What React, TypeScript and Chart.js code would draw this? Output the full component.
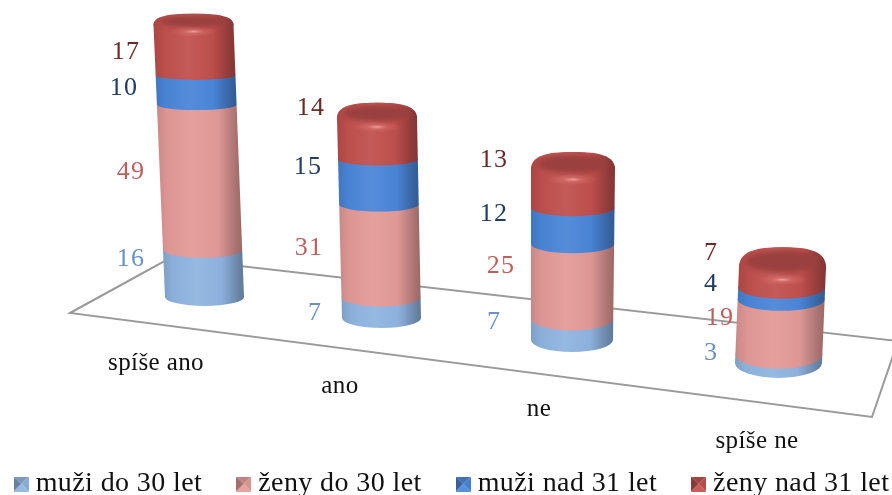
import React, { useEffect, useRef } from "react";
import { Chart, registerables } from "chart.js";

Chart.register(...registerables);

const categories = ["spíše ano", "ano", "ne", "spíše ne"];
const seriesNames = ["muži do 30 let", "ženy do 30 let", "muži nad 31 let", "ženy nad 31 let"];
const muziDo30 = [16, 7, 7, 3];
const zenyDo30 = [49, 31, 25, 19];
const muziNad31 = [10, 15, 12, 4];
const zenyNad31 = [17, 14, 13, 7];

const barColors = ["#8fb4e0", "#e39a98", "#4a86d8", "#c0504d"];
const labelColors = ["#6a90c4", "#bd5f5c", "#1f3c64", "#6a2a28"];
const SERIF = '"Liberation Serif", serif';

// Canvas overhangs the page so that the legend can keep one row and sit low, as in the reference
const CANVAS_W = 960;
const CANVAS_H = 508;
const CANVAS_SHIFT_X = 25;

// 3D view layout per category
const BASE_X = [204.5, 381.5, 572, 778.5];
const TOP_X = [193.5, 377, 573, 782.5];
const BASE_Y = [297, 318, 340, 363];
const UNIT_PX = [2.96, 2.99, 3.0, 2.9];
const HALF_BASE = [39.5, 39.5, 41, 43.5];
const HALF_TOP = [40, 40, 42, 43.5];
const RY_BASE = [9, 10, 12, 15];
const RY_TOP = [4, 5, 7, 10];
const RY_CAP = [11, 15, 17, 20];
const CAT_LABEL_POS = [[156, 363], [340, 386], [539, 409], [757, 441]];
const VALUE_POS = [
  [[131, 259], [315, 313], [494, 322], [711, 353]],
  [[131, 172], [309, 248], [501, 266], [720, 318]],
  [[124, 88], [308, 167], [494, 214], [711, 284]],
  [[126, 52], [311, 108], [494, 160], [711, 253]],
];
const FLOOR = [[70, 313], [170, 258], [898, 341], [872, 417]];

function shade(hex: string, f: number) {
  const n = parseInt(hex.slice(1), 16);
  const c = [(n >> 16) & 255, (n >> 8) & 255, n & 255].map((v) =>
    Math.max(0, Math.min(255, Math.round(f <= 1 ? v * f : v + (255 - v) * (f - 1))))
  );
  return `rgb(${c[0]},${c[1]},${c[2]})`;
}

function legendSwatch(color: string) {
  const c = document.createElement("canvas");
  c.width = 15;
  c.height = 15;
  const g = c.getContext("2d")!;
  const tri = (pts: number[][], col: string) => {
    g.fillStyle = col;
    g.beginPath();
    g.moveTo(pts[0][0], pts[0][1]);
    g.lineTo(pts[1][0], pts[1][1]);
    g.lineTo(pts[2][0], pts[2][1]);
    g.closePath();
    g.fill();
  };
  tri([[0, 0], [15, 0], [7.5, 7.5]], shade(color, 0.85));
  tri([[0, 0], [0, 15], [7.5, 7.5]], shade(color, 0.72));
  tri([[15, 0], [15, 15], [7.5, 7.5]], shade(color, 0.95));
  tri([[0, 15], [15, 15], [7.5, 7.5]], shade(color, 1.08));
  return c;
}

function capPath(ctx: any, cx: number, cy: number, rx: number, r: number) {
  ctx.beginPath();
  ctx.moveTo(cx - rx, cy);
  ctx.bezierCurveTo(cx - rx, cy - r * 0.95, cx - rx * 0.42, cy - r, cx, cy - r);
  ctx.bezierCurveTo(cx + rx * 0.42, cy - r, cx + rx, cy - r * 0.95, cx + rx, cy);
  ctx.ellipse(cx, cy, rx, r, 0, 0, Math.PI);
  ctx.closePath();
}

const cylinderPlugin = {
  id: "cylinders",
  beforeLayout(chart: any) {
    chart.ctx.letterSpacing = "0.4px";
  },
  beforeDatasetsDraw(chart: any) {
    const { ctx, scales } = chart;
    const yScale = scales.y;
    ctx.save();
    ctx.translate(CANVAS_SHIFT_X, 0);
    // floor
    ctx.beginPath();
    FLOOR.forEach((p, i) => (i ? ctx.lineTo(p[0], p[1]) : ctx.moveTo(p[0], p[1])));
    ctx.closePath();
    ctx.fillStyle = "#ffffff";
    ctx.fill();
    ctx.strokeStyle = "#9a9a9a";
    ctx.lineWidth = 2;
    ctx.stroke();

    const nDs = chart.data.datasets.length;
    categories.forEach((_, i) => {
      let total = 0;
      for (let d = 0; d < nDs; d++) total += chart.data.datasets[d].data[i];
      const geom = (v: number) => {
        const t = v / total;
        return {
          cx: BASE_X[i] + (TOP_X[i] - BASE_X[i]) * t,
          cy: BASE_Y[i] - v * UNIT_PX[i],
          rx: HALF_BASE[i] + (HALF_TOP[i] - HALF_BASE[i]) * t,
          ry: RY_BASE[i] + (RY_TOP[i] - RY_BASE[i]) * t,
        };
      };
      for (let d = 0; d < nDs; d++) {
        const el = chart.getDatasetMeta(d).data[i];
        const lo = yScale.getValueForPixel(el.base);
        const hi = yScale.getValueForPixel(el.y);
        const a = geom(lo);
        const b = geom(hi);
        if (d === nDs - 1) b.ry = RY_CAP[i];
        const color = chart.data.datasets[d].backgroundColor;
        const x0 = Math.min(a.cx - a.rx, b.cx - b.rx);
        const x1 = Math.max(a.cx + a.rx, b.cx + b.rx);
        const grad = ctx.createLinearGradient(x0, 0, x1, 0);
        grad.addColorStop(0, shade(color, 0.88));
        grad.addColorStop(0.12, shade(color, 0.97));
        grad.addColorStop(0.42, shade(color, 1.06));
        grad.addColorStop(0.72, shade(color, 0.98));
        grad.addColorStop(0.93, shade(color, 0.74));
        grad.addColorStop(1, shade(color, 0.68));
        ctx.beginPath();
        ctx.ellipse(a.cx, a.cy, a.rx, a.ry, 0, Math.PI, 0, true);
        ctx.lineTo(b.cx + b.rx, b.cy);
        ctx.ellipse(b.cx, b.cy, b.rx, b.ry, 0, 0, Math.PI, true);
        ctx.closePath();
        ctx.fillStyle = grad;
        ctx.fill();
        if (d === nDs - 1) {
          // top cap: rim, recessed top face and a front highlight
          const r = b.ry;
          capPath(ctx, b.cx, b.cy, b.rx, r);
          ctx.fillStyle = grad;
          ctx.fill();
          ctx.save();
          capPath(ctx, b.cx, b.cy, b.rx, r);
          ctx.clip();
          ctx.filter = "blur(2.5px)";
          ctx.beginPath();
          ctx.ellipse(b.cx, b.cy - r * 0.3, b.rx * 0.84, r * 0.55, 0, 0, Math.PI * 2);
          ctx.fillStyle = shade(color, 0.8);
          ctx.fill();
          ctx.restore();
          const hy = b.cy + r * 0.62;
          const hl = ctx.createRadialGradient(b.cx, hy, 0, b.cx, hy, b.rx * 0.6);
          hl.addColorStop(0, "rgba(245,175,170,0.85)");
          hl.addColorStop(0.4, "rgba(235,135,130,0.3)");
          hl.addColorStop(1, "rgba(235,130,125,0)");
          ctx.save();
          ctx.translate(0, hy);
          ctx.scale(1, 0.22);
          ctx.translate(0, -hy);
          ctx.fillStyle = hl;
          ctx.beginPath();
          ctx.arc(b.cx, hy, b.rx * 0.6, 0, Math.PI * 2);
          ctx.fill();
          ctx.restore();
        }
      }
    });

    // value and category labels
    ctx.textAlign = "center";
    ctx.textBaseline = "middle";
    ctx.font = `26px ${SERIF}`;
    ctx.letterSpacing = "1.2px";
    chart.data.datasets.forEach((ds: any, d: number) => {
      ds.data.forEach((v: number, i: number) => {
        ctx.fillStyle = labelColors[d];
        ctx.fillText(String(v), VALUE_POS[d][i][0], VALUE_POS[d][i][1]);
      });
    });
    ctx.font = `25px ${SERIF}`;
    ctx.letterSpacing = "0.4px";
    ctx.fillStyle = "#111111";
    categories.forEach((_, i) => {
      ctx.fillText(scales.x.getLabelForValue(i), CAT_LABEL_POS[i][0], CAT_LABEL_POS[i][1]);
    });
    ctx.restore();
    return false;
  },
};

export default function App() {
  const ref = useRef<HTMLCanvasElement>(null);
  useEffect(() => {
    const values = [muziDo30, zenyDo30, muziNad31, zenyNad31];
    const chart = new Chart(ref.current!, {
      type: "bar",
      data: {
        labels: categories,
        datasets: seriesNames.map((label, i) => ({
          label,
          data: values[i],
          backgroundColor: barColors[i],
          stack: "s",
        })),
      },
      plugins: [cylinderPlugin],
      options: {
        animation: false,
        responsive: false,
        layout: { padding: 0 },
        scales: {
          x: { stacked: true, display: false },
          y: { stacked: true, display: false, min: 0, max: 100 },
        },
        plugins: {
          tooltip: { enabled: false },
          legend: {
            display: true,
            position: "bottom",
            labels: {
              usePointStyle: true,
              pointStyleWidth: 1,
              padding: 41,
              color: "#111111",
              font: { family: SERIF, size: 28 },
              generateLabels: () =>
                seriesNames.map((text, i) => ({
                  text,
                  datasetIndex: i,
                  fontColor: "#111111",
                  pointStyle: legendSwatch(barColors[i]),
                  hidden: false,
                })),
            },
          },
        },
      },
    } as any);
    return () => chart.destroy();
  }, []);
  return (
    <div style={{ position: "absolute", left: 0, top: 0, width: 892, height: 495, overflow: "hidden", background: "#fff" }}>
      <canvas
        ref={ref}
        width={CANVAS_W}
        height={CANVAS_H}
        style={{ display: "block", marginLeft: -CANVAS_SHIFT_X }}
      />
    </div>
  );
}
